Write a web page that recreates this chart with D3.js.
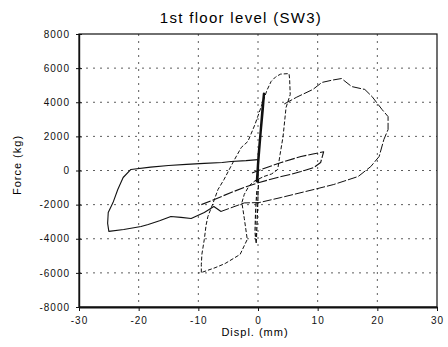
<!DOCTYPE html>
<html>
<head>
<meta charset="utf-8">
<script src="https://cdn.jsdelivr.net/npm/d3@7"></script>
<style>
  body { margin: 0; background: #fff; }
  svg { display: block; font-family: "Liberation Sans", "DejaVu Sans", sans-serif; }
  .axis text { font-size: 10px; letter-spacing: 1px; fill: #111; }
  .axis path, .axis line { stroke: #111; }
  .grid line { stroke: #333; stroke-width: 0.8; stroke-dasharray: 2,5; }
  .curve { fill: none; stroke: #111; stroke-linejoin: round; }
</style>
</head>
<body>
<svg width="448" height="347"></svg>
<script>
// tick values
var dispTicks = [-30, -20, -10, 0, 10, 20, 30];
var forceTicks = [-8000, -6000, -4000, -2000, 0, 2000, 4000, 6000, 8000];

// hysteresis branches: [displacement (mm), force (kg)]
var spikeUpper = [[-0.1, -600], [0, 300], [0.2, 1200], [0.5, 2500], [0.8, 3800], [1, 4500],
  [0.8, 3600], [0.4, 2100], [0.1, 900], [-0.1, -200], [-0.2, -700]];
var spikeLower = [[0.1, -500], [0, -1500], [-0.1, -2500], [-0.2, -3400], [-0.3, -4300],
  [-0.5, -3600], [-0.4, -2400], [-0.2, -1200]];

var peakLoop = [[-9.5, -5980], [-9.5, -5500], [-9.4, -4900], [-9, -4040], [-8.7, -3200],
  [-8.4, -2700], [-7.5, -1880], [-6.7, -1110], [-5.7, -530], [-4, 600], [-2.8, 1350],
  [-1.7, 1700], [-0.5, 2700], [0.8, 4000], [1.5, 4700], [2.2, 5220], [3, 5500],
  [3.8, 5650], [5.2, 5680], [5.3, 5350], [5.4, 4450], [4.7, 3690], [4.2, 1990],
  [3.7, 940], [3.3, 60], [2.3, -200], [1, -350], [-0.5, -600], [-1.5, -900],
  [-2.3, -1400], [-2.7, -1880], [-2.3, -2800], [-1.8, -4040], [-3, -4920],
  [-5.5, -5450], [-7.2, -5700], [-9.5, -5980]];

var bigLoop = [[4.4, 3900], [6.5, 4300], [9.2, 4750], [10.7, 5160], [12.5, 5300],
  [14, 5390], [15.7, 4920], [17.9, 4750], [19.1, 4340], [20.8, 3570], [21.8, 3160],
  [21.8, 2400], [21.1, 1820], [20.3, 820], [18.9, 230], [16.8, -350], [12.7, -820],
  [9.4, -1110], [3.9, -1580], [0.2, -1880], [-2.3, -1900], [-6.2, -2400]];

var leftLoop = [[-6.2, -2400], [-7.4, -2110], [-9, -2460], [-11.2, -2810], [-12.9, -2750],
  [-14.6, -2700], [-16.5, -2950], [-18.4, -3160], [-19.6, -3280], [-22.5, -3460],
  [-25, -3570], [-25.2, -3100], [-25.1, -2460], [-24.3, -1880], [-23.5, -1110],
  [-22.6, -410], [-21.3, 60], [-18, 200], [-15, 290], [-12, 360], [-9, 420],
  [-6, 470], [-4.5, 530], [-2, 580], [0, 640]];

var smallLoop = [[-9.5, -2000], [-7, -1650], [-4.5, -1290], [-2, -950], [0.2, -700],
  [3.9, -350], [5.5, -230], [7.2, -60], [9.4, 180], [10.5, 470], [11, 1100],
  [9, 950], [7.2, 820], [3.9, 470], [0.5, 60], [-1, -150]];

var svg = d3.select("svg"),
  margin = { top: 34, right: 11, bottom: 40, left: 79 },
  width = 448 - margin.left - margin.right,
  height = 347 - margin.top - margin.bottom,
  g = svg.append("g").attr("transform", "translate(" + margin.left + "," + margin.top + ")");

var x = d3.scaleLinear().domain([-30, 30]).range([0, width]);
var y = d3.scaleLinear().domain([-8000, 8000]).range([height, 0]);

// dotted grid
g.append("g").attr("class", "grid")
  .selectAll("line")
  .data(dispTicks.slice(1, -1))
  .enter().append("line")
  .attr("x1", d => x(d)).attr("x2", d => x(d))
  .attr("y1", 0).attr("y2", height);

g.append("g").attr("class", "grid")
  .selectAll("line")
  .data(forceTicks.slice(1, -1))
  .enter().append("line")
  .attr("x1", 0).attr("x2", width)
  .attr("y1", d => y(d)).attr("y2", d => y(d));

// frame
g.append("rect")
  .attr("width", width)
  .attr("height", height)
  .attr("fill", "none")
  .attr("stroke", "#111")
  .attr("stroke-width", 1.2);

var line = d3.line()
  .x(d => x(d[0]))
  .y(d => y(d[1]));

g.append("path").datum(leftLoop).attr("class", "curve")
  .attr("stroke-width", 1.1).attr("d", line);
g.append("path").datum(bigLoop).attr("class", "curve")
  .attr("stroke-width", 1).attr("stroke-dasharray", "9,2").attr("d", line);
g.append("path").datum(smallLoop).attr("class", "curve")
  .attr("stroke-width", 1.1).attr("stroke-dasharray", "10,2").attr("d", line);
g.append("path").datum(peakLoop).attr("class", "curve")
  .attr("stroke-width", 1).attr("stroke-dasharray", "4,2").attr("d", line);
g.append("path").datum(spikeLower).attr("class", "curve")
  .attr("stroke-width", 1.2).attr("stroke-dasharray", "4,2").attr("d", line);
g.append("path").datum(spikeUpper).attr("class", "curve")
  .attr("stroke-width", 2.4).attr("d", line);

// axes, plain hyphen minus like the original
var yAxis = d3.axisLeft(y)
  .tickValues(forceTicks)
  .tickFormat(d => String(d))
  .tickSize(4)
  .tickPadding(5)
  .tickSizeOuter(0);

var xAxis = d3.axisBottom(x)
  .tickValues(dispTicks)
  .tickFormat(d => String(d))
  .tickSize(4)
  .tickPadding(6)
  .tickSizeOuter(0);

g.append("g")
  .attr("class", "axis axisy")
  .call(yAxis);

g.append("g")
  .attr("class", "axis axisx")
  .attr("transform", "translate(0," + height + ")")
  .call(xAxis);

d3.select(".axisx .domain").attr("stroke-width", 2);
d3.select(".axisy .domain").attr("stroke-width", 1.4);

// ticks cross the left axis
d3.selectAll(".axisy .tick line").attr("x2", -3).attr("x1", 3);

// titles
svg.append("text")
  .attr("x", 241)
  .attr("y", 23)
  .attr("text-anchor", "middle")
  .style("font-size", "15px")
  .style("letter-spacing", "1.3px")
  .text("1st floor level (SW3)");

svg.append("text")
  .attr("transform", "translate(21,165) rotate(-90)")
  .attr("text-anchor", "middle")
  .style("font-size", "11px")
  .style("letter-spacing", "1px")
  .text("Force (kg)");

svg.append("text")
  .attr("x", 255)
  .attr("y", 336)
  .attr("text-anchor", "middle")
  .style("font-size", "11px")
  .style("letter-spacing", "1px")
  .text("Displ. (mm)");
</script>
</body>
</html>
